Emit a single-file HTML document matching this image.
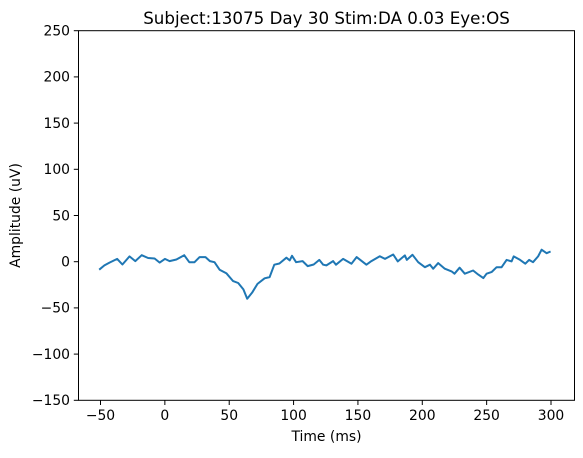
<!DOCTYPE html>
<html><head><meta charset="utf-8"><style>
body{margin:0;background:#fff;}
svg text{font-family:"DejaVu Sans","Liberation Sans",sans-serif;fill:#000;}
</style></head><body>
<svg width="583" height="453" viewBox="0 0 583 453" xmlns="http://www.w3.org/2000/svg">
<text x="326.5" y="24" font-size="16.7" text-anchor="middle">Subject:13075 Day 30 Stim:DA 0.03 Eye:OS</text>
<path id="trace" fill="none" stroke="#1f77b4" stroke-width="2" stroke-linejoin="round"/>
<rect x="78.5" y="30.7" width="496" height="369.6" fill="none" stroke="#000" stroke-width="1"/>
<g id="xticks"></g>
<g id="yticks"></g>
<text x="326.5" y="441" font-size="13.9" text-anchor="middle">Time (ms)</text>
<text transform="translate(20,215.5) rotate(-90)" font-size="13.9" text-anchor="middle">Amplitude (uV)</text>
</svg>
<script>
const times=[-51,-47,-43,-37,-33,-27.5,-23,-18,-13,-8,-4,0,3.7,9,15,19,23,27,31.6,35,38.6,42.5,47.7,53,57,61,64,68,72,77.5,81.4,85,89,94.4,97,98.8,102,107,111,115.6,120,123,125.5,130.7,133,138.5,145,149,156.6,160.5,167,171,177.4,181,186.5,188,192.4,196.8,202,206,208.5,212.4,217.5,222.8,225,229,233,239.5,243.5,247.4,250,254,257.7,261.6,265.5,269.4,271,276,280,283,286,290,292.7,296.6,299.7];
const amps=[-8.7,-4,-1,3,-3,5.7,0.6,7,4,3.5,-1,3,0.6,2.4,7,-0.5,-0.5,5,5,0.6,-0.5,-8.7,-12.4,-21,-23,-30,-40,-33,-24,-18,-16.7,-3.3,-2,4.3,1.4,6.4,-0.5,0.6,-4.8,-3,2,-3.3,-4,0.6,-3.3,3,-2.2,5,-3.3,0.6,6,3,7.8,0.3,6.8,2,7.5,-0.5,-6,-3.3,-7.6,-1.5,-7.6,-10.5,-13,-6.5,-13,-9.5,-14,-17.7,-13,-11,-6,-6,2,0.3,5.7,2,-2.2,2,-0.5,5.7,13,9.2,11];
const xTickVals=[-50,0,50,100,150,200,250,300];
const yTickVals=[-150,-100,-50,0,50,100,150,200,250];
const X=t=>100.5+(t+50)*(450.5/350);
const Y=v=>400.3-(v+150)*(369.6/400);
const ns="http://www.w3.org/2000/svg";
document.getElementById('trace').setAttribute('d',times.map((t,i)=>(i?'L':'M')+X(t).toFixed(1)+' '+Y(amps[i]).toFixed(1)).join(''));
const xg=document.getElementById('xticks');
xTickVals.forEach(v=>{
  const l=document.createElementNS(ns,'line');
  
  
  l.setAttribute('x1',X(v));l.setAttribute('x2',X(v));l.setAttribute('y1',400.3);l.setAttribute('y2',405);l.setAttribute('stroke','#000');l.setAttribute('stroke-width','1');
  xg.appendChild(l);
  const t=document.createElementNS(ns,'text');
  
  
  t.setAttribute('x',X(v));t.setAttribute('y',420);t.setAttribute('font-size','13.9');t.setAttribute('text-anchor','middle');
  t.textContent=v<0?'\u2212'+Math.abs(v):v;
  xg.appendChild(t);
});
const yg=document.getElementById('yticks');
yTickVals.forEach(v=>{
  const l=document.createElementNS(ns,'line');
  
  
  l.setAttribute('x1',73.8);l.setAttribute('x2',78.5);l.setAttribute('y1',Y(v));l.setAttribute('y2',Y(v));l.setAttribute('stroke','#000');l.setAttribute('stroke-width','1');
  yg.appendChild(l);
  const t=document.createElementNS(ns,'text');
  
  
  t.setAttribute('x',70);t.setAttribute('y',Y(v)+4.8);t.setAttribute('font-size','13.9');t.setAttribute('text-anchor','end');
  t.textContent=v<0?'\u2212'+Math.abs(v):v;
  yg.appendChild(t);
});
</script>
</body></html>
